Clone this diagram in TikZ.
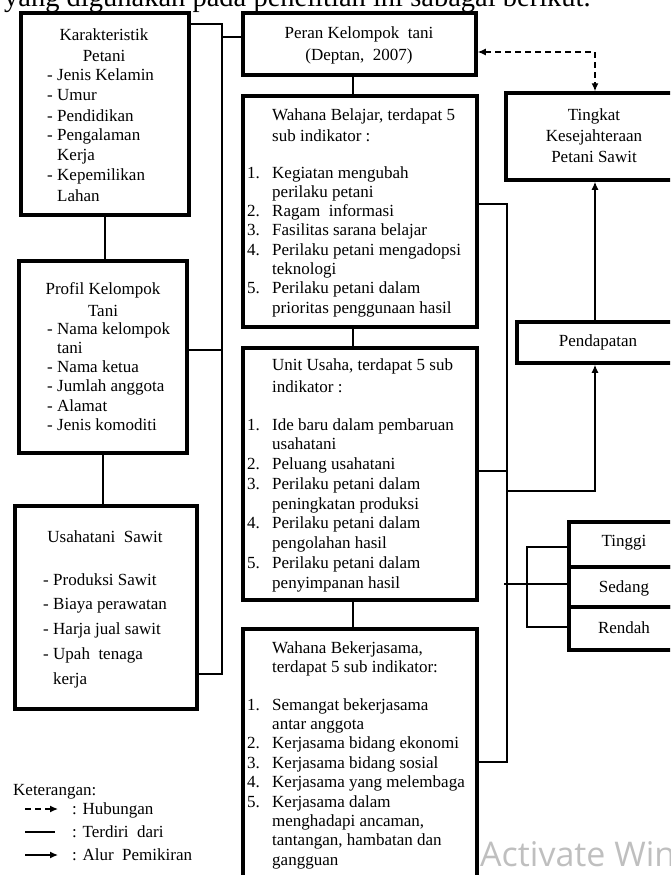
\documentclass[tikz,border=0pt]{standalone}
\usepackage{fontspec}
\setmainfont{Liberation Serif}
\newfontfamily\wmfont{Open Sans}
\usetikzlibrary{arrows.meta}
\newcommand{\dlist}[1]{\begin{tabular}[t]{@{}p{10pt}@{}l@{}}#1\end{tabular}}
\newcommand{\nlist}[1]{\begin{tabular}[t]{@{}p{25pt}@{}l@{}}#1\end{tabular}}
\newcommand{\clines}[1]{\begin{tabular}[t]{@{}c@{}}#1\end{tabular}}
\newcommand{\llines}[1]{\begin{tabular}[t]{@{}l@{}}#1\end{tabular}}
\begin{document}
\begin{tikzpicture}[x=1pt,y=-1pt,
  box/.style={draw, rectangle, line width=3.5pt, inner sep=0pt, outer sep=0pt, anchor=north west},
  txt/.style={inner sep=0pt, anchor=base west, font=\fontsize{17}{19.5}\selectfont},
  ctxt/.style={inner sep=0pt, anchor=base, font=\fontsize{17}{21}\selectfont},
  conn/.style={line width=1.3pt},
  tip/.style={-{Latex[length=8pt,width=7pt]}},
  arr/.style={conn, -{Latex[length=8pt,width=7pt]}, shorten >=1.75pt},
  rel/.style={conn, dash pattern=on 6pt off 4pt, {Latex[length=8pt,width=7pt]}-{Latex[length=8pt,width=7pt]}, shorten >=1.75pt, shorten <=1.75pt}
]
\useasboundingbox (0,0) rectangle (670,875);
\clip (0,0) rectangle (670,875);

% intro text (cut at top, as in the reference)
\node[anchor=base west, inner sep=0pt, font=\fontsize{28.5}{30}\selectfont] (intro) at (4,7) {yang digunakan pada penelitian ini sabagai berikut.};

% ---------- left column ----------
\node[box, minimum width=168pt, minimum height=202pt] (kar) at (21,13) {};
\node[ctxt] (kart) at (104,41) {\clines{Karakteristik\\Petani}};
\node[txt, font=\fontsize{17}{20}\selectfont] (karl) at (47,81) {\dlist{-&Jenis Kelamin\\-&Umur\\-&Pendidikan\\-&Pengalaman\\&Kerja\\-&Kepemilikan\\&Lahan}};

\node[box, minimum width=168pt, minimum height=192pt] (prof) at (19,261) {};
\node[ctxt, font=\fontsize{17}{22}\selectfont] (proft) at (103,294) {\clines{Profil Kelompok\\Tani}};
\node[txt, font=\fontsize{17}{19.3}\selectfont] (profl) at (47,334) {\dlist{-&Nama kelompok\\&tani\\-&Nama ketua\\-&Jumlah anggota\\-&Alamat\\-&Jenis komoditi}};

\node[box, minimum width=182pt, minimum height=203pt] (usa) at (15,506) {};
\node[ctxt] (usat) at (105,542) {Usahatani\ \ Sawit};
\node[txt, font=\fontsize{17}{24.75}\selectfont] (usal) at (43,585) {\dlist{-&Produksi Sawit\\-&Biaya perawatan\\-&Harja jual sawit\\-&Upah\ \ tenaga\\&kerja}};

% ---------- middle column ----------
\node[box, minimum width=233pt, minimum height=62pt] (peran) at (243,13) {};
\node[ctxt, font=\fontsize{17}{22}\selectfont] (perant) at (359,39) {\clines{Peran Kelompok\ \ tani\\(Deptan,\ \ 2007)}};

\node[box, minimum width=234pt, minimum height=231pt] (wb) at (243,96) {};
\node[txt, font=\fontsize{17}{21}\selectfont] (wbt) at (272,120) {\llines{Wahana Belajar, terdapat 5\\sub indikator :}};
\node[txt, font=\fontsize{17}{19.3}\selectfont] (wbl) at (247,178) {\nlist{1.&Kegiatan mengubah\\&perilaku petani\\2.&Ragam\ \ informasi\\3.&Fasilitas sarana belajar\\4.&Perilaku petani mengadopsi\\&teknologi\\5.&Perilaku petani dalam\\&prioritas penggunaan hasil}};

\node[box, minimum width=234pt, minimum height=252pt] (uu) at (243,348) {};
\node[txt, font=\fontsize{17}{22}\selectfont] (uut) at (272,370) {\llines{Unit Usaha, terdapat 5 sub\\indikator :}};
\node[txt, font=\fontsize{17}{19.75}\selectfont] (uul) at (247,430) {\nlist{1.&Ide baru dalam pembaruan\\&usahatani\\2.&Peluang usahatani\\3.&Perilaku petani dalam\\&peningkatan produksi\\4.&Perilaku petani dalam\\&pengolahan hasil\\5.&Perilaku petani dalam\\&penyimpanan hasil}};

\node[box, minimum width=234pt, minimum height=270pt] (wbk) at (243,629) {};
\node[txt, font=\fontsize{17}{19}\selectfont] (wbkt) at (272,653) {\llines{Wahana Bekerjasama,\\terdapat 5 sub indikator:}};
\node[txt, font=\fontsize{17}{19.4}\selectfont] (wbkl) at (247,710) {\nlist{1.&Semangat bekerjasama\\&antar anggota\\2.&Kerjasama bidang ekonomi\\3.&Kerjasama bidang sosial\\4.&Kerjasama yang melembaga\\5.&Kerjasama dalam\\&menghadapi ancaman,\\&tantangan, hambatan dan\\&gangguan}};

% ---------- right column ----------
\node[box, minimum width=176pt, minimum height=87pt] (tk) at (506,93) {};
\node[ctxt] (tkt) at (594,120) {\clines{Tingkat\\Kesejahteraan\\Petani Sawit}};

\node[box, minimum width=156pt, minimum height=41pt] (pend) at (517,322) {};
\node[ctxt] (pendt) at (598,346) {Pendapatan};

\node[box, minimum width=110pt, minimum height=45pt] (ti) at (569,522) {};
\node[box, minimum width=110pt, minimum height=40pt] (se) at (569,567) {};
\node[box, minimum width=110pt, minimum height=43pt] (re) at (569,607) {};
\node[ctxt] (tit) at (624,546) {Tinggi};
\node[ctxt] (set) at (624,592) {Sedang};
\node[ctxt] (ret) at (624,633) {Rendah};

% ---------- connectors ----------
\coordinate (lb1) at (222,24);
\coordinate (lbp) at (222,37);
\coordinate (lbq) at (222,350);
\coordinate (lb4) at (222,674);
\draw[conn] (lb1 -| kar.east) -- (lb1) -- (lb4) -- (lb4 -| usa.east);
\draw[conn] (lbp) -- (lbp -| peran.west);
\draw[conn] (lbq -| prof.east) -- (lbq);
\draw[conn] (kar.south) -- (kar.south |- prof.north);
\draw[conn] (prof.south) -- (prof.south |- usa.north);

\coordinate (mv) at (353,0);
\draw[conn] (peran.south -| mv) -- (wb.north -| mv);
\draw[conn] (wb.south -| mv) -- (uu.north -| mv);
\draw[conn] (uu.south -| mv) -- (wbk.north -| mv);

\coordinate (rb1) at (507,204);
\coordinate (rb2) at (507,471);
\coordinate (rb3) at (507,762);
\coordinate (rp) at (507,491);
\draw[conn] (rb1 -| wb.east) -- (rb1) -- (rb3) -- (rb3 -| wbk.east);
\draw[conn] (rb2 -| uu.east) -- (rb2);
\draw[arr] (rp) -- (rp -| pend.south) -- (pend.south);
\draw[arr] (pend.north) -- (pend.north |- tk.south);

\coordinate (dc) at (595,52);
\draw[rel] (dc -| peran.east) -- (dc) -- (dc |- tk.north);

\coordinate (bk1) at (527,547);
\coordinate (bk2) at (527,627);
\coordinate (sd) at (504,584);
\draw[conn] (bk1 -| ti.west) -- (bk1) -- (bk2) -- (bk2 -| re.west);
\draw[conn] (sd) -- (sd -| se.west);

% ---------- legend ----------
\node[txt] (ket) at (13,795) {Keterangan:};
\coordinate (lg1a) at (25,809);
\coordinate (lg1b) at (58,809);
\coordinate (lg2a) at (25,832);
\coordinate (lg2b) at (55,832);
\coordinate (lg3a) at (25,855);
\coordinate (lg3b) at (58,855);
\draw[conn, dash pattern=on 6pt off 4pt, tip] (lg1a) -- (lg1b);
\draw[conn] (lg2a) -- (lg2b);
\draw[conn, tip] (lg3a) -- (lg3b);
\node[txt] (lgt1) at (72,814) {: Hubungan};
\node[txt] (lgt2) at (72,837) {: Terdiri\ \ dari};
\node[txt] (lgt3) at (72,860) {: Alur\ \ Pemikiran};

% watermark (cut at the right edge, as in the reference)
\node[anchor=west, inner sep=0pt, text=black!25, font=\wmfont\fontsize{34}{36}\selectfont] (wm) at (480,854) {Activate Windows};
\end{tikzpicture}
\end{document}
